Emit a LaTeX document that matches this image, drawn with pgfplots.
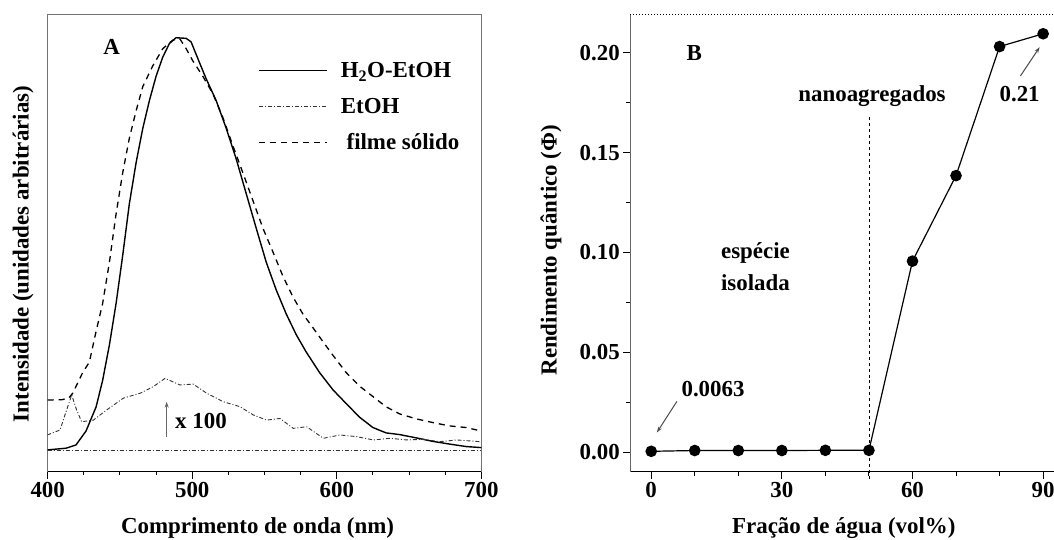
\documentclass[border=0pt]{standalone}
\usepackage{fontspec}
\setmainfont{Liberation Serif}
\usepackage{pgfplots}
\pgfplotsset{compat=1.18}
\usetikzlibrary{arrows.meta}
\newcommand{\bigf}{\fontsize{23}{26}\selectfont\bfseries}
\begin{document}
\begin{tikzpicture}[x=1bp,y=1bp]
\path[use as bounding box] (0,0) rectangle (1054,540);
% ---------------- Panel A ----------------
\begin{axis}[at={(47.7bp,68.3bp)}, anchor=south west, scale only axis,
  width=433.6bp, height=457.4bp,
  xmin=400, xmax=700, ymin=-0.0508, ymax=1.0557,
  xtick={400,500,600,700}, minor x tick num=3, ytick=\empty,
  xtick pos=left, tick align=outside,
  major tick length=7bp, minor tick length=3.5bp,
  axis line style={black!55, line width=0.9bp},
  tick style={black, line width=1bp},
  /pgf/number format/assume math mode=true,
  tick label style={font=\bigf},
  label style={font=\bigf},
  xlabel={Comprimento de onda (nm)},
  ylabel={Intensidade (unidades arbitrárias)},
  xlabel style={at={(axis description cs:0.484,-0.136)}, anchor=base},
  ylabel style={at={(axis description cs:-0.057,0.476)}, anchor=center},
  legend style={at={(axis description cs:0.485,0.90)}, anchor=north west,
    draw=none, fill=none, font=\bigf, row sep=15bp, inner sep=0pt},
  legend cell align=left,
  legend image code/.code={\draw[#1] (0bp,0bp) -- (68bp,0bp); \path[draw=none] (68bp,0bp) -- (80bp,0bp);},
]
\draw[black, line width=1.3bp] (rel axis cs:0,0) -- (rel axis cs:1,0);
% H2O-EtOH (solid)
\addplot[black, line width=1.4bp] coordinates {
(400,0.002) (412.7,0.006) (419.6,0.014) (426.5,0.0475) (433.5,0.106) (438,0.17)
(442.7,0.256) (447.3,0.356) (451.9,0.4725) (456.5,0.5975) (461.2,0.6975)
(465.8,0.78) (470.4,0.8475) (475,0.906) (479.6,0.952) (484.2,0.985)
(488.8,0.999) (495.8,0.9975) (499.2,0.989) (505,0.939) (509.6,0.90)
(516.5,0.8475) (523.5,0.78) (530.4,0.706) (537.3,0.6225) (544.2,0.539)
(551.2,0.456) (558.1,0.389) (565,0.331) (571.9,0.281) (578.8,0.239)
(588.1,0.189) (597.3,0.1475) (606.5,0.114) (615.8,0.081) (625,0.056)
(634.2,0.043) (643.5,0.039) (655,0.031) (666.5,0.0225) (678,0.016)
(689.6,0.01) (700,0.0075)};
\addlegendentry{H\textsubscript{2}O-EtOH}
% EtOH x100 (dash-dot)
\addplot[black!80, line width=0.9bp, dash pattern=on 4bp off 2bp on 1bp off 2bp] coordinates {
(399.7,0.038) (408.5,0.05) (413.1,0.0985) (416.6,0.135) (420,0.0985)
(423.5,0.070) (431.6,0.074) (440.8,0.0985) (452.3,0.127) (463.9,0.139)
(473.1,0.155) (481.2,0.175) (491.5,0.159) (500.7,0.161) (510,0.139)
(521.5,0.1185) (533,0.1065) (542.3,0.0864) (551.5,0.074) (560.7,0.078)
(569.9,0.054) (579.2,0.058) (590.7,0.030) (602.2,0.038) (613.8,0.034)
(625.3,0.026) (636.8,0.030) (648.4,0.026) (659.9,0.0276) (671.4,0.0218)
(683,0.026) (699.1,0.0218) (700,0.0218)};
\addlegendentry{EtOH}
% filme solido (dashed)
\addplot[black, line width=1.3bp, dash pattern=on 6bp off 5bp] coordinates {
(400,0.1225) (410,0.1235) (414.5,0.127) (417.3,0.139) (424.2,0.189) (428.8,0.214)
(433.5,0.289) (438,0.356) (442.7,0.456) (447.3,0.5725) (451.9,0.6725)
(456.5,0.756) (461.2,0.8225) (465.8,0.881) (472.7,0.931) (479.6,0.9725)
(486.5,0.993) (491.2,0.9975) (495.8,0.9725) (500.4,0.943) (507.3,0.906)
(514.2,0.864) (521.2,0.806) (528,0.739) (535,0.6725) (541.9,0.606)
(548.8,0.539) (555.8,0.481) (562.7,0.4225) (569.6,0.3725) (576.5,0.331)
(583.5,0.2975) (590.4,0.264) (597.3,0.231) (606.5,0.189) (615.8,0.156)
(625,0.131) (634.2,0.106) (643.5,0.089) (655,0.077) (666.5,0.068)
(678,0.06) (689.6,0.056) (700,0.0475)};
\addlegendentry{\ filme sólido}
% EtOH baseline
\addplot[forget plot, black!80, line width=0.9bp, dash pattern=on 4bp off 2bp on 1bp off 2bp] coordinates {(400,0) (700,0)};
\draw[-{Stealth[length=6bp,width=4bp]}, black!60, line width=1.3bp] (axis cs:482.3,0.034) -- (axis cs:482.3,0.1185);
\node[anchor=base west, font=\bigf, inner sep=0pt] at (axis cs:488.1,0.054) {x 100};
\node[anchor=base, font=\bigf, inner sep=0pt] at (axis cs:444.3,0.9596) {A};
\end{axis}
% ---------------- Panel B ----------------
\begin{axis}[at={(630.3bp,68.3bp)}, anchor=south west, scale only axis,
  width=423.7bp, height=456.7bp,
  xmin=-4.8, xmax=92.5, ymin=-0.0097, ymax=0.2189,
  axis x line*=bottom, axis y line*=left,
  xtick={0,30,60,90}, minor xtick={10,20,40,50,70,80},
  ytick={0,0.05,0.1,0.15,0.2}, minor ytick={0.025,0.075,0.125,0.175},
  scaled y ticks=false,
  yticklabel style={/pgf/number format/.cd, fixed, fixed zerofill, precision=2},
  tick align=outside,
  major tick length=7bp, minor tick length=4bp,
  x axis line style={black, line width=1.2bp},
  y axis line style={black!60, line width=0.9bp},
  tick style={black, line width=1bp},
  /pgf/number format/assume math mode=true,
  tick label style={font=\bigf},
  label style={font=\bigf},
  xlabel={Fração de água (vol\%)},
  ylabel={Rendimento quântico (Φ)},
  xlabel style={at={(axis description cs:0.504,-0.136)}, anchor=base},
  ylabel style={at={(axis description cs:-0.187,0.485)}, anchor=center},
  clip=false,
]
\draw[black, line width=1bp, dotted] (rel axis cs:0,1) -- (rel axis cs:1,1);
\addplot[black, line width=0.8bp, dashed] coordinates {(50,0.1676) (50,-0.0137)};
\addplot[black, line width=1.2bp, mark=*, mark size=5.2bp, mark options={solid}] coordinates {
(0,0.0005) (10,0.0009) (20,0.0009) (30,0.0009) (40,0.001) (50,0.001)
(60,0.0957) (70,0.1385) (80,0.2031) (90,0.2095)};
\node[anchor=base, font=\bigf, inner sep=0pt] at (axis cs:9.9,0.1962) {B};
\node[anchor=base, font=\bigf, inner sep=0pt] at (axis cs:50.7,0.1754) {nanoagregados};
\node[anchor=base, font=\bigf, inner sep=0pt] at (axis cs:84.6,0.1754) {0.21};
\node[anchor=base west, font=\bigf, inner sep=0pt] at (axis cs:16.0,0.097) {espécie};
\node[anchor=base west, font=\bigf, inner sep=0pt] at (axis cs:16.0,0.081) {isolada};
\node[anchor=base, font=\bigf, inner sep=0pt] at (axis cs:14.2,0.0281) {0.0063};
\draw[-{Stealth[length=6bp,width=4bp]}, black!70, line width=1bp] (axis cs:84.8,0.1884) -- (axis cs:89.2,0.2028);
\draw[-{Stealth[length=6bp,width=4bp]}, black!70, line width=1bp] (axis cs:5.9,0.0255) -- (axis cs:1.3,0.0099);
\end{axis}
\end{tikzpicture}
\end{document}
